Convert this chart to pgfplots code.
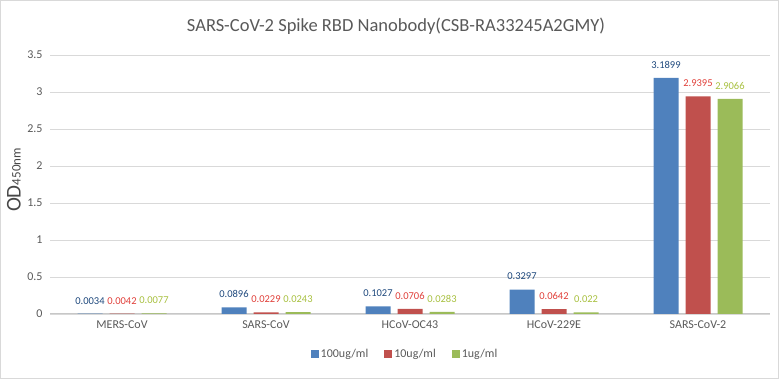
\documentclass[border=0pt]{standalone}
\usepackage{pgfplots}
\pgfplotsset{compat=1.18}
\usepackage{pgfplotstable}
\usepackage{fontspec}
\setmainfont{Carlito}
\definecolor{cblue}{HTML}{4F81BD}
\definecolor{cred}{HTML}{C0504D}
\definecolor{cgreen}{HTML}{9BBB59}
\definecolor{lblue}{HTML}{1F497D}
\definecolor{lred}{HTML}{E0403A}
\definecolor{lgreen}{HTML}{A8C040}
\definecolor{txt}{HTML}{595959}
\definecolor{grid}{HTML}{D9D9D9}
\pgfplotstableread{
x y lab
0 0.0034 0.0034
1 0.0896 0.0896
2 0.1027 0.1027
3 0.3297 0.3297
4 3.1899 3.1899
}\tA
\pgfplotstableread{
x y lab
0 0.0042 0.0042
1 0.0229 0.0229
2 0.0706 0.0706
3 0.0642 0.0642
4 2.9395 2.9395
}\tB
\pgfplotstableread{
x y lab
0 0.0077 0.0077
1 0.0243 0.0243
2 0.0283 0.0283
3 0.022 0.022
4 2.9066 2.9066
}\tC
\begin{document}
\begin{tikzpicture}
\path[use as bounding box] (0,0) rectangle (779pt,379pt);
\draw[color=grid, line width=1pt] (0.5pt,0.5pt) rectangle (778.5pt,378.5pt);
\begin{axis}[
  at={(50pt,65pt)}, anchor=south west,
  scale only axis, width=720pt, height=259pt,
  xmin=-0.5, xmax=4.5, ymin=0, ymax=3.5,
  ybar=7pt, bar width=25pt,
  xtick={0,1,2,3,4},
  xticklabels={MERS-CoV,SARS-CoV,HCoV-OC43,HCoV-229E,SARS-CoV-2},
  ytick={0,0.5,1,1.5,2,2.5,3,3.5},
  yticklabels={0,0.5,1,1.5,2,2.5,3,3.5},
  major tick length=0pt,
  tick label style={font=\fontsize{12}{14}\selectfont, text=txt},
  xticklabel style={yshift=-3pt},
  yticklabel style={xshift=-4pt},
  ymajorgrids, grid style={color=grid, line width=0.8pt},
  axis x line*=bottom, axis y line*=left,
  x axis line style={color=grid!80!gray, line width=1pt, -},
  y axis line style={draw=none},
  title={SARS-CoV-2 Spike RBD Nanobody(CSB-RA33245A2GMY)},
  title style={at={(rel axis cs:0.5,1)}, anchor=center, yshift=23pt, xshift=-14pt, font=\fontsize{18.5}{21}\selectfont, text=txt},
  ylabel={{\fontsize{21}{22}\selectfont OD}{\fontsize{13}{14}\selectfont 450nm}},
  ylabel style={at={(axis description cs:-0.05,0.517)}, anchor=center, text=txt!80!black},
  nodes near coords={\pgfplotspointmeta},
  point meta=explicit symbolic,
  nodes near coords style={font=\fontsize{10.5}{12}\selectfont, yshift=6pt},
  legend columns=3,
  legend style={at={(rel axis cs:0.5,-0.154)}, anchor=center, xshift=-5pt, draw=none, fill=none,
    font=\fontsize{12}{14}\selectfont, text=txt,
    /tikz/every even column/.append style={column sep=14pt}},
  legend image code/.code={\fill[#1] (0pt,-4pt) rectangle (8pt,4pt);},
]
\addplot[fill=cblue, draw=none, every node near coord/.append style={text=lblue}] table[x=x,y=y,meta=lab]{\tA};
\addplot[fill=cred, draw=none, every node near coord/.append style={text=lred}] table[x=x,y=y,meta=lab]{\tB};
\addplot[fill=cgreen, draw=none, every node near coord/.append style={text=lgreen}] table[x=x,y=y,meta=lab]{\tC};
\legend{100ug/ml,10ug/ml,1ug/ml}
\end{axis}
\end{tikzpicture}
\end{document}
